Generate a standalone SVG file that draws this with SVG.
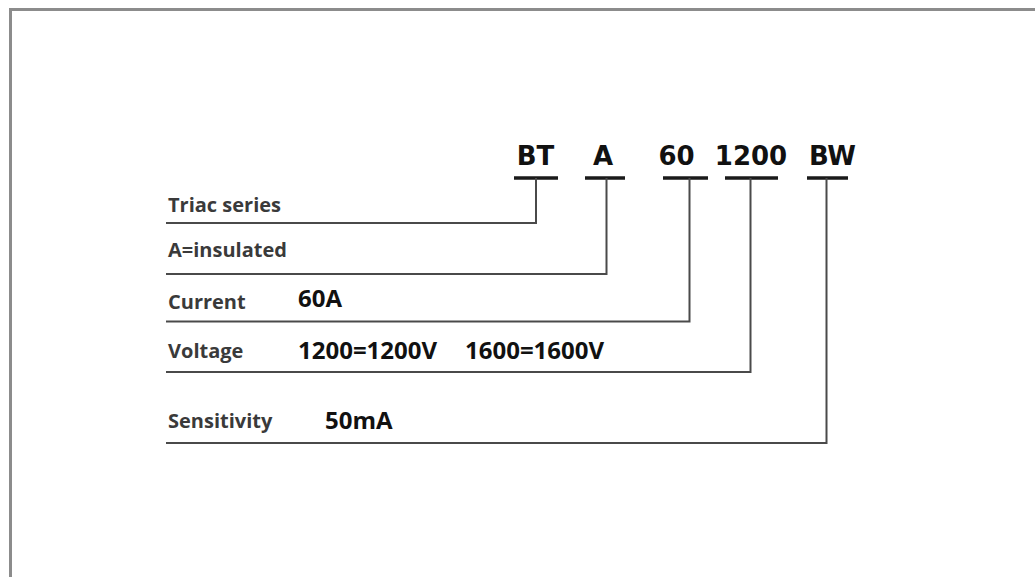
<svg xmlns="http://www.w3.org/2000/svg" width="1035" height="577" viewBox="0 0 1035 577">
<style>
.frame{fill:none;stroke:#8c8c8c;stroke-width:3}
.code{font-family:"DejaVu Sans",sans-serif;font-weight:bold;font-size:26px;fill:#111;text-anchor:middle}
.bar{stroke:#1a1a1a;stroke-width:3.5}
.lbl{font-family:"Open Sans",sans-serif;font-weight:bold;font-size:20px;fill:#3a3a3a}
.val{font-family:"Open Sans",sans-serif;font-weight:bold;font-size:24px;fill:#111}
.conn{fill:none;stroke:#4a4a4a;stroke-width:2}
</style>
<rect width="1035" height="577" fill="#fff"/>
<path class="frame" d="M10.5,577 V9.5 H1035"/>
<g id="code-BT"><text class="code" x="535.5" y="165">BT</text><line class="bar" x1="514" y1="178" x2="558" y2="178"/></g>
<g id="code-A"><text class="code" x="603" y="165">A</text><line class="bar" x1="585" y1="178" x2="625" y2="178"/></g>
<g id="code-60"><text class="code" x="676.5" y="165">60</text><line class="bar" x1="663" y1="178" x2="708" y2="178"/></g>
<g id="code-1200"><text class="code" x="751" y="165">1200</text><line class="bar" x1="725" y1="178" x2="778" y2="178"/></g>
<g id="code-BW"><text class="code" x="832.5" y="165">BW</text><line class="bar" x1="807" y1="178" x2="848" y2="178"/></g>
<g id="label-triac"><text class="lbl" x="168" y="212">Triac series</text></g>
<g id="label-insulated"><text class="lbl" x="168" y="257">A=insulated</text></g>
<g id="label-current"><text class="lbl" x="168" y="309">Current</text><text class="val" x="298" y="307">60A</text></g>
<g id="label-voltage"><text class="lbl" x="168" y="358">Voltage</text><text class="val" x="298" y="359">1200=1200V</text><text class="val" x="465" y="359">1600=1600V</text></g>
<g id="label-sensitivity"><text class="lbl" x="168" y="428">Sensitivity</text><text class="val" x="325" y="429">50mA</text></g>
<g id="connectors">
<polyline class="conn" points="166,223 536,223 536,178"/>
<polyline class="conn" points="166,274 606.5,274 606.5,178"/>
<polyline class="conn" points="166,321.5 689.5,321.5 689.5,178"/>
<polyline class="conn" points="166,372 750.5,372 750.5,178"/>
<polyline class="conn" points="166,443 826.5,443 826.5,178"/>
</g>
</svg>
